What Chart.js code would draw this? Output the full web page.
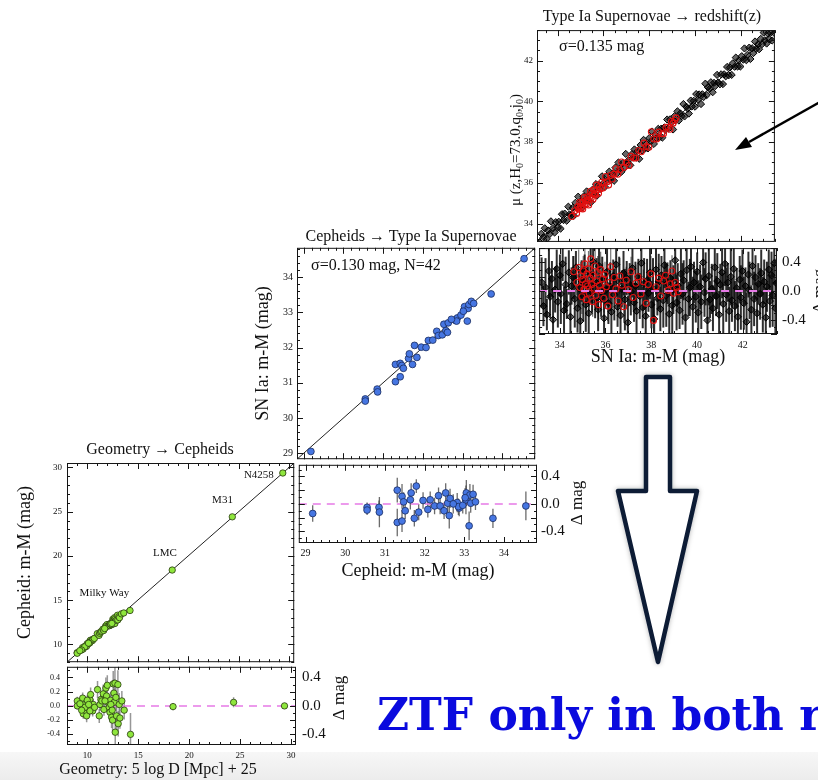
<!DOCTYPE html>
<html>
<head>
<meta charset="utf-8">
<script src="https://cdn.jsdelivr.net/npm/chart.js@4.4.1/dist/chart.umd.min.js"></script>
<style>
  html, body { margin: 0; padding: 0; background: #fff; }
  body { width: 818px; height: 780px; position: relative; overflow: hidden; }
  canvas { position: absolute; }
  #band { position: absolute; left: 0; top: 752px; width: 818px; height: 28px; background: linear-gradient(#f7f7f7, #ececec); }
  #ov { position: absolute; left: 0; top: 0; pointer-events: none; }
</style>
</head>
<body>
<div id="band"></div>
<canvas id="geoMain"></canvas>
<canvas id="geoRes"></canvas>
<canvas id="cephMain"></canvas>
<canvas id="cephRes"></canvas>
<canvas id="snMain"></canvas>
<canvas id="snResid"></canvas>
<svg id="ov" width="818" height="780" font-family="'Liberation Serif', serif">
  <defs>
    <filter id="sh" x="-30%" y="-10%" width="160%" height="120%">
      <feDropShadow dx="0" dy="0" stdDeviation="2.5" flood-color="#000" flood-opacity="0.3"/>
    </filter>
  </defs>
  <text x="160" y="454" text-anchor="middle" font-size="16" fill="#111">Geometry → Cepheids</text>
  <text x="411" y="241" text-anchor="middle" font-size="16" fill="#111">Cepheids → Type Ia Supernovae</text>
  <text x="652" y="21" text-anchor="middle" font-size="16" fill="#111">Type Ia Supernovae → redshift(z)</text>
  <line x1="820" y1="102" x2="749" y2="142" stroke="#000" stroke-width="2.5"/>
  <polygon points="735,150 752,147 746,137" fill="#000"/>
  <path d="M646,377 H670 V491 H697 L658,662 L618,491 H646 Z" fill="#fff" stroke="#0d1b36" stroke-width="4.5" stroke-linejoin="round" filter="url(#sh)"/>
  <text x="377" y="730" font-family="'DejaVu Serif', serif" font-weight="bold" font-size="44" fill="#0a0ade">ZTF only in both r</text>
</svg>
<script>
// ---- Geometry -> Cepheids (Milky Way, LMC, M31, N4258)
const geoDist = [9.01, 9.01, 9.54, 9.60, 9.76, 9.86, 9.99, 10.09, 10.19, 10.25,
  10.32, 10.42, 10.52, 9.93, 10.25, 9.99, 9.76, 9.44, 10.58, 10.71,
  9.27, 10.13, 11.00, 11.17, 11.24, 11.33, 11.43, 11.56, 11.63, 11.82,
  11.89, 11.96, 12.05, 12.15, 12.22, 12.28, 12.38, 12.48, 12.54, 12.61,
  12.64, 12.71, 12.74, 12.80, 12.87, 13.00, 13.03, 13.13, 13.20, 13.39,
  13.62, 14.24, 12.31, 12.44, 11.73, 18.42, 24.37, 29.37];
const geoCeph = [9.08, 9.01, 9.65, 9.49, 9.78, 9.79, 9.97, 10.14, 10.14, 10.34,
  10.48, 10.42, 10.45, 9.79, 10.18, 10.07, 9.74, 9.38, 10.60, 10.69,
  9.30, 10.15, 11.23, 11.03, 11.26, 11.42, 11.50, 11.73, 11.58, 12.07,
  12.03, 12.25, 12.10, 12.13, 12.13, 12.36, 12.22, 12.28, 12.85, 12.79,
  12.69, 13.03, 12.37, 12.92, 12.73, 13.30, 12.78, 13.15, 13.03, 13.46,
  13.56, 13.84, 12.33, 12.38, 11.80, 18.41, 24.42, 29.37];
const geoDelta = [0.07, 0.00, 0.11, -0.11, 0.02, -0.07, -0.02, 0.05, -0.05, 0.09,
  0.16, 0.00, -0.07, -0.14, -0.07, 0.08, -0.02, -0.06, 0.02, -0.02,
  0.03, 0.02, 0.23, -0.14, 0.02, 0.09, 0.07, 0.17, -0.05, 0.25,
  0.14, 0.29, 0.05, -0.02, -0.09, 0.08, -0.16, -0.20, 0.31, 0.18,
  0.05, 0.32, -0.37, 0.12, -0.14, 0.30, -0.25, 0.02, -0.17, 0.07,
  -0.06, -0.40, 0.02, -0.06, 0.07, -0.01, 0.05, 0.00];
const geoErr = [0.06, 0.05, 0.08, 0.07, 0.06, 0.08, 0.07, 0.09, 0.06, 0.08,
  0.10, 0.07, 0.08, 0.09, 0.06, 0.07, 0.05, 0.06, 0.08, 0.07,
  0.06, 0.08, 0.12, 0.10, 0.09, 0.11, 0.10, 0.13, 0.09, 0.15,
  0.12, 0.14, 0.13, 0.11, 0.14, 0.12, 0.15, 0.16, 0.18, 0.20,
  0.17, 0.22, 0.25, 0.19, 0.21, 0.20, 0.18, 0.16, 0.15, 0.14,
  0.13, 0.30, 0.13, 0.14, 0.10, 0.05, 0.07, 0.04];
const geoRange = [8, 30.5];
const geoResRange = [-0.55, 0.55];
const geoTicks = [10, 15, 20, 25, 30];
const geoResTicks = [-0.4, -0.2, 0, 0.2, 0.4];

// ---- Cepheids -> Type Ia Supernovae (N=42)
const cephDist = [29.18, 30.55, 30.55, 30.85, 30.86, 31.31, 31.31, 31.43, 31.43, 31.47,
  31.51, 31.64, 31.66, 31.74, 31.79, 31.85, 31.96, 32.08, 32.14, 32.25,
  32.35, 32.39, 32.49, 32.53, 32.58, 32.62, 32.64, 32.82, 32.87, 32.85,
  32.96, 33.04, 33.05, 33.12, 33.14, 33.16, 33.22, 33.28, 33.72, 34.55, 33.02, 32.72];
const cephSn = [29.05, 30.54, 30.48, 30.82, 30.74, 31.52, 31.03, 31.17, 31.55, 31.49,
  31.41, 31.69, 31.82, 31.52, 32.06, 31.72, 32.01, 32.00, 32.20, 32.21,
  32.46, 32.34, 32.36, 32.66, 32.48, 32.43, 32.70, 32.77, 32.84, 32.75,
  32.92, 33.07, 33.16, 32.75, 33.11, 33.22, 33.31, 33.25, 33.52, 34.52, 33.03, 32.80];
const cephDelta = [-0.14, -0.05, -0.09, -0.05, -0.12, 0.20, -0.27, -0.25, 0.11, 0.03,
  -0.10, 0.06, 0.16, -0.21, 0.26, -0.12, 0.05, -0.08, 0.06, -0.03,
  0.12, -0.03, -0.10, 0.16, 0.01, -0.17, 0.08, 0.02, -0.06, -0.04,
  -0.02, 0.06, 0.16, -0.32, 0.13, 0.01, 0.14, 0.03, -0.21, -0.03, 0.09, 0.00];
const cephErr = [0.12, 0.07, 0.07, 0.10, 0.22, 0.18, 0.20, 0.16, 0.18, 0.14,
  0.12, 0.14, 0.14, 0.12, 0.10, 0.12, 0.12, 0.12, 0.12, 0.12,
  0.12, 0.12, 0.12, 0.14, 0.14, 0.19, 0.14, 0.14, 0.12, 0.12,
  0.12, 0.21, 0.19, 0.21, 0.16, 0.14, 0.14, 0.12, 0.14, 0.21, 0.14, 0.14];
const cephRange = [28.83, 34.83];
const cephResRange = [-0.57, 0.57];
const cephTicks = [29, 30, 31, 32, 33, 34];
const sideTicks = [-0.4, 0, 0.4];

// ---- Type Ia Supernovae -> redshift (all SNe, black)
const snDist = [33.21, 33.29, 33.38, 33.44, 33.53, 33.58, 33.66, 33.71, 33.80, 33.87,
  33.92, 34.01, 34.05, 34.13, 34.19, 34.26, 34.31, 34.40, 34.47, 34.52,
  34.59, 34.66, 34.71, 34.78, 34.84, 34.90, 34.96, 35.03, 35.09, 35.14,
  35.22, 35.27, 35.35, 35.41, 35.46, 35.55, 35.61, 35.68, 35.72, 35.81,
  35.86, 35.94, 36.00, 36.07, 36.13, 36.21, 36.26, 36.34, 36.39, 36.47,
  36.53, 36.60, 36.66, 36.72, 36.79, 36.85, 36.93, 36.98, 37.06, 37.11,
  37.18, 37.25, 37.31, 37.36, 37.44, 37.50, 37.57, 37.63, 37.69, 37.76,
  37.82, 37.88, 37.95, 38.01, 38.08, 38.13, 38.21, 38.27, 38.33, 38.40,
  38.45, 38.53, 38.58, 38.66, 38.71, 38.79, 38.84, 38.92, 38.97, 39.05,
  39.11, 39.16, 39.24, 39.30, 39.37, 39.42, 39.50, 39.55, 39.63, 39.69,
  39.74, 39.82, 39.87, 39.95, 40.01, 40.06, 40.14, 40.19, 40.27, 40.33,
  40.38, 40.46, 40.52, 40.57, 40.65, 40.70, 40.78, 40.84, 40.89, 40.97,
  41.02, 41.10, 41.15, 41.23, 41.28, 41.35, 41.41, 41.48, 41.53, 41.61,
  41.66, 41.74, 41.79, 41.87, 41.92, 41.99, 42.05, 42.12, 42.17, 42.25,
  42.30, 42.38, 42.43, 42.50, 42.56, 42.63, 42.68, 42.76, 42.81, 42.88,
  42.94, 43.01, 43.06, 43.14, 43.19, 43.26, 43.31, 43.38, 43.43, 43.47];
const snMu = [33.09, 33.50, 33.33, 33.77, 33.25, 33.66, 33.49, 34.11, 33.78, 33.56,
  34.07, 33.79, 34.09, 33.75, 34.46, 34.17, 34.49, 34.14, 34.83, 34.45,
  34.40, 34.77, 34.38, 35.02, 34.80, 35.32, 34.82, 35.09, 34.80, 35.33,
  35.14, 35.58, 35.12, 35.43, 35.05, 35.69, 35.50, 35.94, 35.37, 35.90,
  35.70, 36.32, 35.99, 35.80, 36.30, 36.15, 36.55, 36.13, 36.44, 36.10,
  36.75, 36.47, 37.00, 36.69, 36.54, 36.97, 36.75, 37.42, 36.97, 37.12,
  36.86, 37.41, 37.24, 37.64, 37.24, 37.57, 37.18, 37.86, 37.59, 38.11,
  37.67, 37.91, 37.69, 38.20, 38.04, 38.52, 37.91, 38.37, 38.20, 38.65,
  38.23, 38.66, 38.22, 38.72, 38.60, 39.11, 38.66, 39.12, 38.95, 38.62,
  39.27, 39.08, 39.51, 39.06, 39.41, 39.27, 39.87, 39.26, 39.74, 39.64,
  39.40, 40.04, 39.75, 40.03, 39.74, 40.36, 40.08, 40.34, 39.87, 40.35,
  40.21, 40.87, 40.31, 40.69, 40.62, 40.94, 40.45, 40.91, 40.75, 41.30,
  40.93, 40.84, 41.33, 40.85, 41.33, 41.23, 41.69, 41.28, 41.66, 41.30,
  41.87, 41.70, 42.15, 41.71, 42.01, 41.71, 42.22, 42.05, 42.60, 42.02,
  42.29, 42.64, 42.08, 42.61, 42.37, 42.94, 42.58, 42.80, 42.56, 43.07,
  42.81, 43.38, 43.00, 42.84, 43.33, 43.04, 43.37, 42.99, 43.67, 43.36];
const snDelta = [0.12, -0.21, 0.05, -0.33, 0.28, -0.08, 0.17, -0.40, 0.02, 0.31,
  -0.15, 0.22, -0.04, 0.38, -0.27, 0.09, -0.18, 0.26, -0.36, 0.07,
  0.19, -0.11, 0.33, -0.24, 0.04, -0.42, 0.14, -0.06, 0.29, -0.19,
  0.08, -0.31, 0.23, -0.02, 0.41, -0.14, 0.11, -0.26, 0.35, -0.09,
  0.16, -0.38, 0.01, 0.27, -0.17, 0.06, -0.29, 0.21, -0.05, 0.37,
  -0.22, 0.13, -0.34, 0.03, 0.25, -0.12, 0.18, -0.44, 0.09, -0.01,
  0.32, -0.16, 0.07, -0.28, 0.20, -0.07, 0.39, -0.23, 0.10, -0.35,
  0.15, -0.03, 0.26, -0.19, 0.04, -0.39, 0.30, -0.10, 0.13, -0.25,
  0.22, -0.13, 0.36, -0.06, 0.11, -0.32, 0.18, -0.20, 0.02, 0.43,
  -0.16, 0.08, -0.27, 0.24, -0.04, 0.15, -0.37, 0.29, -0.11, 0.05,
  0.34, -0.22, 0.12, -0.08, 0.27, -0.30, 0.06, -0.15, 0.40, -0.02,
  0.17, -0.41, 0.21, -0.12, 0.03, -0.24, 0.33, -0.07, 0.14, -0.33,
  0.09, 0.26, -0.18, 0.38, -0.05, 0.12, -0.28, 0.20, -0.13, 0.31,
  -0.21, 0.04, -0.36, 0.16, -0.09, 0.28, -0.17, 0.07, -0.43, 0.23,
  0.01, -0.26, 0.35, -0.11, 0.19, -0.31, 0.10, -0.04, 0.25, -0.19,
  0.13, -0.37, 0.06, 0.30, -0.14, 0.22, -0.06, 0.39, -0.24, 0.11];
const snErr = [0.35, 0.28, 0.41, 0.22, 0.38, 0.30, 0.25, 0.44, 0.32, 0.27,
  0.36, 0.29, 0.42, 0.24, 0.33, 0.39, 0.21, 0.31, 0.37, 0.26,
  0.30, 0.40, 0.23, 0.34, 0.27, 0.45, 0.29, 0.36, 0.22, 0.38,
  0.26, 0.33, 0.40, 0.28, 0.43, 0.24, 0.35, 0.30, 0.41, 0.27,
  0.32, 0.44, 0.25, 0.37, 0.29, 0.34, 0.40, 0.23, 0.36, 0.42,
  0.28, 0.35, 0.39, 0.26, 0.31, 0.43, 0.24, 0.37, 0.30, 0.33,
  0.41, 0.27, 0.34, 0.38, 0.25, 0.32, 0.45, 0.29, 0.36, 0.40,
  0.30, 0.26, 0.37, 0.33, 0.42, 0.28, 0.35, 0.24, 0.39, 0.31,
  0.27, 0.38, 0.32, 0.44, 0.29, 0.36, 0.25, 0.41, 0.34, 0.30,
  0.39, 0.31, 0.26, 0.35, 0.43, 0.28, 0.37, 0.32, 0.24, 0.40,
  0.33, 0.42, 0.29, 0.36, 0.27, 0.45, 0.31, 0.38, 0.25, 0.34,
  0.37, 0.30, 0.41, 0.26, 0.35, 0.32, 0.44, 0.28, 0.39, 0.33,
  0.29, 0.36, 0.43, 0.31, 0.38, 0.27, 0.34, 0.40, 0.30, 0.42,
  0.35, 0.28, 0.39, 0.33, 0.45, 0.30, 0.37, 0.26, 0.41, 0.32,
  0.40, 0.34, 0.27, 0.38, 0.31, 0.43, 0.29, 0.36, 0.33, 0.39,
  0.31, 0.42, 0.35, 0.28, 0.37, 0.33, 0.44, 0.30, 0.38, 0.34];

// ---- ZTF subsample (red)
const ztfDist = [34.62, 34.75, 34.83, 34.88, 34.92, 34.97, 35.00, 35.03, 35.06, 35.10,
  35.13, 35.16, 35.19, 35.22, 35.26, 35.29, 35.33, 35.36, 35.40, 35.44,
  35.47, 35.51, 35.55, 35.58, 35.62, 35.66, 35.70, 35.74, 35.79, 35.83,
  35.88, 35.93, 35.98, 36.04, 36.10, 36.17, 36.23, 36.31, 36.38, 36.46,
  36.55, 36.63, 36.72, 36.80, 36.91, 37.00, 37.12, 37.21, 37.33, 37.42,
  37.55, 37.66, 37.78, 37.87, 37.99, 38.10, 38.21, 38.33, 38.42, 38.55,
  38.63, 38.74, 38.83, 38.91, 38.98, 39.05, 39.12, 39.18];
const ztfMu = [34.35, 34.63, 34.50, 34.83, 34.71, 35.05, 34.84, 34.75, 35.04, 34.72,
  35.03, 35.28, 34.95, 35.15, 34.95, 35.32, 35.15, 34.91, 35.31, 35.59,
  35.25, 35.47, 35.20, 35.64, 35.48, 35.40, 35.89, 35.66, 35.49, 35.82,
  35.71, 36.03, 35.75, 35.98, 36.31, 36.05, 35.89, 36.36, 36.19, 36.43,
  36.69, 36.42, 36.64, 37.02, 36.76, 36.98, 36.85, 37.30, 37.22, 37.22,
  37.59, 37.53, 37.95, 37.78, 37.75, 38.51, 38.15, 38.15, 38.49, 38.41,
  38.41, 38.73, 38.73, 38.63, 39.01, 38.93, 39.07, 39.19];
const ztfDelta = [0.27, 0.12, 0.33, 0.05, 0.21, -0.08, 0.16, 0.28, 0.02, 0.38,
  0.10, -0.12, 0.24, 0.07, 0.31, -0.03, 0.18, 0.45, 0.09, -0.15,
  0.22, 0.04, 0.35, -0.06, 0.14, 0.26, -0.19, 0.08, 0.30, 0.01,
  0.17, -0.10, 0.23, 0.06, -0.21, 0.12, 0.34, -0.05, 0.19, 0.03,
  -0.14, 0.21, 0.08, -0.22, 0.15, 0.02, 0.27, -0.09, 0.11, 0.20,
  -0.04, 0.13, -0.17, 0.09, 0.24, -0.41, 0.06, 0.18, -0.07, 0.14,
  0.22, 0.01, 0.10, 0.28, -0.03, 0.12, 0.05, -0.01];
const ztfErr = [0.22, 0.18, 0.25, 0.16, 0.20, 0.24, 0.17, 0.21, 0.19, 0.26,
  0.18, 0.23, 0.16, 0.20, 0.25, 0.19, 0.22, 0.27, 0.17, 0.21,
  0.24, 0.18, 0.26, 0.20, 0.16, 0.23, 0.21, 0.19, 0.25, 0.17,
  0.22, 0.20, 0.18, 0.24, 0.21, 0.16, 0.26, 0.19, 0.23, 0.18,
  0.20, 0.25, 0.17, 0.22, 0.19, 0.24, 0.21, 0.18, 0.26, 0.20,
  0.23, 0.17, 0.22, 0.19, 0.25, 0.28, 0.18, 0.21, 0.24, 0.20,
  0.19, 0.23, 0.17, 0.22, 0.20, 0.18, 0.21, 0.19];
const snRange = [33.1, 43.5];
const snResRange = [-0.6, 0.6];
const snTicks = [34, 36, 38, 40, 42];

// ---- plugins
const SERIF = "'Liberation Serif', 'Times New Roman', serif";
Chart.defaults.font.family = SERIF;
Chart.defaults.color = '#111';

// IDL-style frame with inward major/minor ticks on all four sides
const frameTicks = {
  id: 'frameTicks',
  afterDatasetsDraw(chart, args, o) {
    if (!o.x) return;
    const {ctx, chartArea: a} = chart;
    ctx.save();
    ctx.strokeStyle = '#151515';
    ctx.lineWidth = 1;
    const marks = (scale, step, len, horiz) => {
      const k0 = Math.ceil(scale.min / step - 1e-6), k1 = Math.floor(scale.max / step + 1e-6);
      ctx.beginPath();
      for (let k = k0; k <= k1; k++) {
        const p = Math.round(scale.getPixelForValue(k * step)) + 0.5;
        if (horiz) {
          ctx.moveTo(p, a.bottom); ctx.lineTo(p, a.bottom - len);
          ctx.moveTo(p, a.top); ctx.lineTo(p, a.top + len);
        } else {
          ctx.moveTo(a.left, p); ctx.lineTo(a.left + len, p);
          ctx.moveTo(a.right, p); ctx.lineTo(a.right - len, p);
        }
      }
      ctx.stroke();
    };
    marks(chart.scales.x, o.x[1], 3, true);
    marks(chart.scales.x, o.x[0], 6, true);
    marks(chart.scales.y, o.y[1], 3, false);
    marks(chart.scales.y, o.y[0], 6, false);
    ctx.strokeRect(a.left + 0.5, a.top + 0.5, a.right - a.left - 1, a.bottom - a.top - 1);
    ctx.restore();
  }
};

// vertical error bars for datasets carrying an `errors` array
const errorBars = {
  id: 'errorBars',
  beforeDatasetsDraw(chart) {
    const {ctx, chartArea: a} = chart;
    ctx.save();
    ctx.beginPath();
    ctx.rect(a.left, a.top, a.right - a.left, a.bottom - a.top);
    ctx.clip();
    chart.data.datasets.forEach((ds, i) => {
      if (!ds.errors) return;
      const meta = chart.getDatasetMeta(i);
      const ys = chart.scales[meta.yAxisID];
      ctx.strokeStyle = ds.errorColor;
      ctx.lineWidth = ds.errorWidth;
      meta.data.forEach((pt, j) => {
        const v = ds.data[j].y, e = ds.errors[j];
        ctx.beginPath();
        ctx.moveTo(pt.x, ys.getPixelForValue(v + e));
        ctx.lineTo(pt.x, ys.getPixelForValue(v - e));
        ctx.stroke();
      });
    });
    ctx.restore();
  }
};

// free text: annotations, rotated side titles, subscripts
const NOTES = {};
const notes = {
  id: 'notes',
  afterDraw(chart) {
    const items = NOTES[chart.canvas.id] || [];
    const {ctx, chartArea: a, scales} = chart;
    items.forEach(n => {
      let x = n.px[0], y = n.px[1];
      if (n.at === 'data') { x = scales.x.getPixelForValue(n.px[0]); y = scales.y.getPixelForValue(n.px[1]); }
      if (n.at === 'area') { x = a.left + n.px[0]; y = a.top + n.px[1]; }
      const parts = n.parts || [[n.text, 0]];
      const fontOf = sub => (sub ? Math.round(n.size * 0.68) : n.size) + 'px ' + SERIF;
      let w = 0;
      parts.forEach(p => { ctx.font = fontOf(p[1]); w += ctx.measureText(p[0]).width; });
      ctx.save();
      ctx.translate(x, y);
      if (n.rot) ctx.rotate(n.rot);
      ctx.fillStyle = '#111';
      ctx.textBaseline = 'middle';
      ctx.textAlign = 'left';
      let cx = n.align === 'left' ? 0 : -w / 2;
      parts.forEach(p => {
        ctx.font = fontOf(p[1]);
        ctx.fillText(p[0], cx, p[1] ? n.size * 0.32 : 0);
        cx += ctx.measureText(p[0]).width;
      });
      ctx.restore();
    });
  }
};
Chart.register(frameTicks, errorBars, notes);

// ---- helpers
function zeroPad(s) { s.paddingLeft = s.paddingRight = s.paddingTop = s.paddingBottom = 0; }
function axis(range, o) {
  const ax = {
    type: 'linear', min: range[0], max: range[1],
    display: o.show !== false,
    position: o.pos,
    grid: {display: false, drawTicks: false},
    border: {display: false},
    ticks: {autoSkip: false, maxRotation: 0, padding: o.pad || 4, font: {size: o.size || 10},
      callback: o.fmt || (v => v)},
    afterBuildTicks: s => { s.ticks = (o.ticks || []).map(v => ({value: v})); },
    afterFit: s => {
      if (o.span != null) { if (s.isHorizontal()) s.height = o.span; else s.width = o.span; }
      zeroPad(s);
    }
  };
  if (o.title) ax.title = {display: true, text: o.title, font: {size: 18}, padding: o.titlePad};
  return ax;
}
const oneDec = v => v.toFixed(1);
function pts(xs, ys, style) {
  return Object.assign({data: xs.map((x, i) => ({x: x, y: ys[i]}))}, style);
}
function seg(x0, y0, x1, y1, style) {
  return Object.assign({data: [{x: x0, y: y0}, {x: x1, y: y1}], showLine: true, pointRadius: 0,
    borderWidth: 1, borderColor: '#222'}, style);
}
function make(id, box, cfg) {
  const c = document.getElementById(id);
  c.width = box[2]; c.height = box[3];
  c.style.left = box[0] + 'px'; c.style.top = box[1] + 'px';
  NOTES[id] = cfg.notes || [];
  return new Chart(c, {
    type: 'scatter',
    data: {datasets: cfg.datasets},
    options: {
      responsive: false, animation: false, events: [],
      layout: {padding: cfg.padding},
      scales: cfg.scales,
      plugins: {legend: {display: false}, tooltip: {enabled: false}, frameTicks: cfg.ticks}
    }
  });
}
const green = {pointRadius: 3.2, pointBackgroundColor: '#8fe63d', pointBorderColor: '#27380f', pointBorderWidth: 0.8};
const blue = {pointRadius: 3.4, pointBackgroundColor: '#4676e2', pointBorderColor: '#1b2c5e', pointBorderWidth: 0.8};
const diamond = {pointStyle: 'rectRot', pointRadius: 3.6, pointBackgroundColor: 'rgba(0,0,0,0.6)', pointBorderColor: '#000', pointBorderWidth: 1};
const ring = {pointStyle: 'circle', pointRadius: 3, pointBackgroundColor: 'rgba(0,0,0,0)', pointBorderColor: '#e01010', pointBorderWidth: 1.1};
const zeroLine = {borderColor: '#e67ae6', borderDash: [8, 6], borderWidth: 1.5};

// ---- Geometry -> Cepheids
make('geoMain', [0, 458, 299, 209], {
  padding: {top: 5, right: 3, bottom: 2, left: 0},
  datasets: [
    pts(geoDist, geoCeph, green),
    seg(geoRange[0], geoRange[0], geoRange[1], geoRange[1])
  ],
  scales: {
    x: axis(geoRange, {pos: 'bottom', show: false}),
    y: axis(geoRange, {pos: 'left', ticks: geoTicks, span: 67, size: 9, pad: 5,
      title: 'Cepheid: m-M (mag)', titlePad: {top: 14, bottom: 0}})
  },
  ticks: {x: [5, 1], y: [5, 1]},
  notes: [
    {at: 'data', px: [11.7, 15.8], text: 'Milky Way', size: 11},
    {at: 'data', px: [17.7, 20.3], text: 'LMC', size: 11},
    {at: 'data', px: [23.4, 26.3], text: 'M31', size: 11},
    {at: 'data', px: [27.0, 29.1], text: 'N4258', size: 11}
  ]
});
make('geoRes', [0, 662, 360, 118], {
  padding: {top: 3, right: 0, bottom: 0, left: 0},
  datasets: [
    pts(geoDist, geoDelta, Object.assign({errors: geoErr, errorColor: 'rgba(125,125,125,0.8)', errorWidth: 1.5}, green)),
    seg(geoRange[0], 0, geoRange[1], 0, zeroLine)
  ],
  scales: {
    x: axis(geoRange, {pos: 'bottom', ticks: geoTicks, span: 35, size: 9, pad: 5}),
    y: axis(geoResRange, {pos: 'left', ticks: geoResTicks, span: 67, size: 8, pad: 7, fmt: oneDec}),
    yR: axis(geoResRange, {pos: 'right', ticks: sideTicks, span: 64, size: 15, pad: 6, fmt: oneDec})
  },
  ticks: {x: [5, 1], y: [0.2, 0.1]},
  notes: [
    {px: [158, 108], text: 'Geometry: 5 log D [Mpc] + 25', size: 16},
    {px: [340, 36], text: 'Δ mag', size: 17, rot: -Math.PI / 2}
  ]
});

// ---- Cepheids -> Type Ia Supernovae
make('cephMain', [240, 243, 300, 221], {
  padding: {top: 3, right: 3, bottom: 1, left: 0},
  datasets: [
    pts(cephDist, cephSn, blue),
    seg(cephRange[0], cephRange[0], cephRange[1], cephRange[1])
  ],
  scales: {
    x: axis(cephRange, {pos: 'bottom', show: false}),
    y: axis(cephRange, {pos: 'left', ticks: cephTicks, span: 57, size: 10, pad: 4,
      title: 'SN Ia: m-M (mag)', titlePad: {top: 12, bottom: 0}})
  },
  ticks: {x: [1, 0.2], y: [1, 0.2]},
  notes: [{at: 'area', px: [14, 18], text: 'σ=0.130 mag, N=42', size: 16, align: 'left'}]
});
make('cephRes', [294, 460, 300, 126], {
  padding: {top: 3, right: 0, bottom: 0, left: 3},
  datasets: [
    pts(cephDist, cephDelta, Object.assign({errors: cephErr, errorColor: 'rgba(70,70,70,0.8)', errorWidth: 1.3}, blue)),
    seg(cephRange[0], 0, cephRange[1], 0, zeroLine)
  ],
  scales: {
    x: axis(cephRange, {pos: 'bottom', ticks: cephTicks, span: 43, size: 10, pad: 4,
      title: 'Cepheid: m-M (mag)', titlePad: {top: 0, bottom: 4}}),
    y: axis(cephResRange, {pos: 'left', show: false}),
    yR: axis(cephResRange, {pos: 'right', ticks: sideTicks, span: 57, size: 15, pad: 4, fmt: oneDec})
  },
  ticks: {x: [1, 0.2], y: [0.2, 0.1]},
  notes: [{px: [284, 43], text: 'Δ mag', size: 17, rot: -Math.PI / 2}]
});

// ---- Type Ia Supernovae -> redshift(z)
make('snMain', [495, 25, 285, 222], {
  padding: {top: 3, right: 3, bottom: 1, left: 0},
  datasets: [
    pts(ztfDist, ztfMu, ring),
    pts(snDist, snMu, diamond),
    seg(snRange[0], snRange[0], snRange[1], snRange[1])
  ],
  scales: {
    x: axis(snRange, {pos: 'bottom', show: false}),
    y: axis(snRange, {pos: 'left', ticks: snTicks, span: 42, size: 9, pad: 4})
  },
  ticks: {x: [2, 0.5], y: [2, 0.5]},
  notes: [
    {at: 'area', px: [22, 17], text: 'σ=0.135 mag', size: 16, align: 'left'},
    {px: [21, 125], size: 15, rot: -Math.PI / 2,
      parts: [['μ (z,H', 0], ['0', 1], ['=73.0,q', 0], ['0', 1], [',j', 0], ['0', 1], [')', 0]]}
  ]
});
make('snResid', [534, 243, 284, 130], {
  padding: {top: 3, right: 0, bottom: 0, left: 3},
  datasets: [
    seg(snRange[0], 0, snRange[1], 0, Object.assign({}, zeroLine, {borderWidth: 2})),
    pts(ztfDist, ztfDelta, Object.assign({errors: ztfErr, errorColor: 'rgba(60,60,60,0.7)', errorWidth: 1.2}, ring)),
    pts(snDist, snDelta, Object.assign({errors: snErr, errorColor: 'rgba(10,10,10,0.85)', errorWidth: 2}, diamond))
  ],
  scales: {
    x: axis(snRange, {pos: 'bottom', ticks: snTicks, span: 39, size: 10, pad: 5,
      title: 'SN Ia: m-M (mag)', titlePad: {top: 0, bottom: 5}}),
    y: axis(snResRange, {pos: 'left', show: false}),
    yR: axis(snResRange, {pos: 'right', ticks: sideTicks, span: 41, size: 15, pad: 5, fmt: oneDec})
  },
  ticks: {x: [2, 0.5], y: [0.2, 0.1]},
  notes: [{px: [286, 48], text: 'Δ mag', size: 17, rot: -Math.PI / 2}]
});
</script>
</body>
</html>
